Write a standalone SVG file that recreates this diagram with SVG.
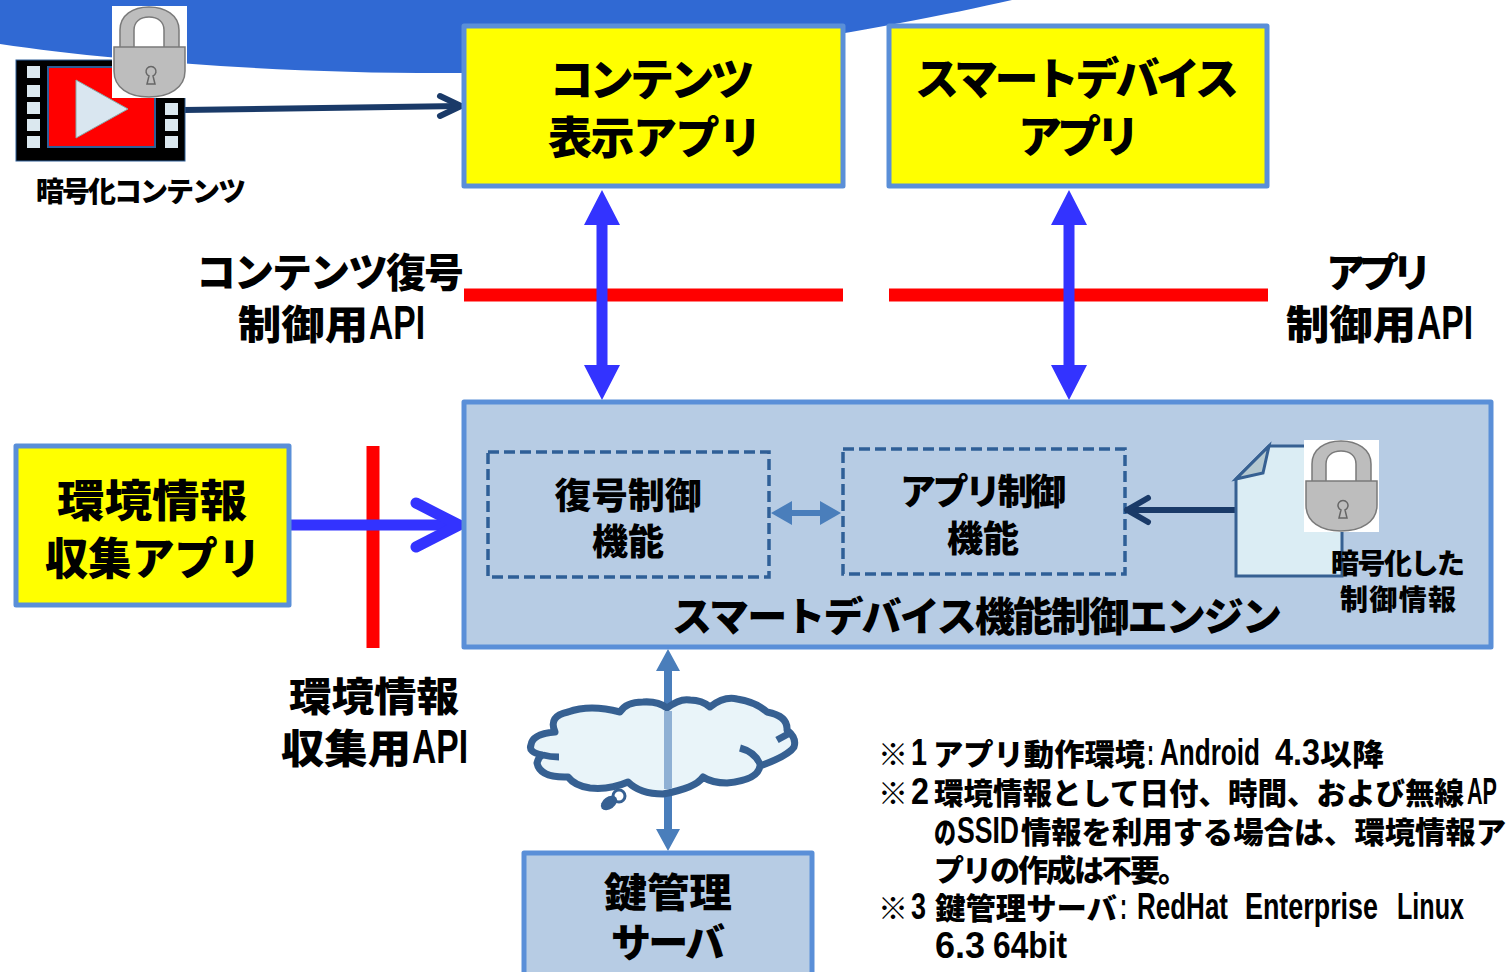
<svg xmlns="http://www.w3.org/2000/svg" width="1506" height="972" viewBox="0 0 1506 972">
<style>
text{font-family:"Noto Sans CJK JP","Noto Sans",sans-serif;font-weight:900;fill:#000;text-anchor:middle}
.la{font-family:"Liberation Sans","Noto Sans CJK JP",sans-serif;font-weight:700;font-size:36px}
.api{font-family:"Liberation Sans","Noto Sans CJK JP",sans-serif;font-weight:700;font-size:48px}
.b{stroke:#5a8fd8;stroke-width:5;stroke-linejoin:round}
.y{fill:#ffff00}
.l{fill:#b7cce4}
.dash{fill:#b7cce4;stroke:#2f5f97;stroke-width:3.5;stroke-dasharray:11 5}
.t46{font-size:44px}.t40{font-size:40px}.t38{font-size:36px}.t28{font-size:28px}
.s{text-anchor:start}
.n{font-size:30px;text-anchor:start}
</style>
<defs>
<g id="lock">
<rect x="0" y="0" width="75" height="92" fill="#fff"/>
<path d="M8 46V24C8 9 21 1 37 1S67 9 67 24V46H52V24C52 16 46 11 37 11S22 16 22 24V46Z" fill="#bdbdbd" stroke="#7a7a7a" stroke-width="1.5"/>
<path d="M2 41H73V65C73 82 57 91 37 91S2 82 2 65Z" fill="#bdbdbd" stroke="#7a7a7a" stroke-width="1.5"/>
<path d="M35 78H43L41 70A5 5 0 1 0 37 70Z" fill="#bdbdbd" stroke="#666" stroke-width="1.5"/>
</g>
</defs>
<path id="swoosh" d="M0 0H1012C880 30 640 72 460 73C300 74 120 62 0 44Z" fill="#3069d3"/>

<g id="connectors">
<path d="M184 110L460 106" stroke="#1a3a68" stroke-width="6" fill="none"/>
<path d="M440 96L461 106L440 116" stroke="#1a3a68" stroke-width="6" fill="none" stroke-linecap="round" stroke-linejoin="round"/>
<path d="M464 295H843M889 295H1268" stroke="#ff0000" stroke-width="13" fill="none"/>
<path d="M602 220V370" stroke="#3333ff" stroke-width="11"/>
<path d="M602 190L620 225H584Z M602 400L620 365H584Z" fill="#3333ff"/>
<path d="M1069 220V370" stroke="#3333ff" stroke-width="11"/>
<path d="M1069 190L1087 225H1051Z M1069 400L1087 365H1051Z" fill="#3333ff"/>
<path d="M373 446V648" stroke="#ff0000" stroke-width="13"/>
<path d="M290 525H458" stroke="#3333ff" stroke-width="11"/>
<path d="M416 503L459 525L416 547" stroke="#3333ff" stroke-width="11" fill="none" stroke-linecap="round" stroke-linejoin="round"/>
<path d="M668 670V830" stroke="#4a7ebb" stroke-width="8"/>
<path d="M668 649L680 671H656Z M668 851L680 829H656Z" fill="#4a7ebb"/>
</g>

<g id="app-content"><rect class="b y" x="464" y="26" width="379" height="160"/>
<text class="t46" x="652" y="96" textLength="205">コンテンツ</text><text class="t46" x="655" y="154" textLength="214">表示アプリ</text></g>
<g id="app-smart"><rect class="b y" x="889" y="26" width="378" height="160"/>
<text class="t46" x="1077" y="95" textLength="324">スマートデバイス</text><text class="t46" x="1079" y="153" textLength="122">アプリ</text></g>
<g id="app-env"><rect class="b y" x="16" y="446" width="273" height="159"/>
<text class="t46" x="152" y="517" textLength="190" lengthAdjust="spacingAndGlyphs">環境情報</text><text class="t46" x="153" y="575" textLength="216" lengthAdjust="spacingAndGlyphs">収集アプリ</text></g>

<g id="engine"><rect class="b l" x="464" y="402" width="1027" height="245"/>
<text class="t40" x="977" y="631" textLength="610">スマートデバイス機能制御エンジン</text></g>
<g id="decrypt"><rect class="dash" x="488" y="452" width="281" height="125"/>
<text class="t38" x="628" y="509" textLength="147" lengthAdjust="spacingAndGlyphs">復号制御</text><text class="t38" x="628" y="555" textLength="72">機能</text></g>
<g id="appctl"><rect class="dash" x="843" y="449" width="282" height="125"/>
<text class="t38" x="983" y="505" textLength="166">アプリ制御</text><text class="t38" x="983" y="552" textLength="72">機能</text></g>
<g id="inner-arrow"><path d="M785 513H830" stroke="#4a7ebb" stroke-width="6"/>
<path d="M771 513L792 501V525Z M841 513L820 501V525Z" fill="#4a7ebb"/></g>

<g id="doc">
<path d="M1125 510H1236" stroke="#1a3a68" stroke-width="6"/>
<path d="M1148 498L1127 510L1148 522" stroke="#1a3a68" stroke-width="6" fill="none" stroke-linecap="round" stroke-linejoin="round"/>
<path d="M1236 479L1269 446H1342V576H1236Z" fill="#dbedf4" stroke="#366092" stroke-width="3"/>
<path d="M1236 479L1263 473L1269 446Z" fill="#b4c8d0" stroke="#366092" stroke-width="3"/>
<use href="#lock" x="1304" y="440"/>
<text class="t28" x="1398" y="574" textLength="134">暗号化した</text><text class="t28" x="1398" y="610" textLength="116">制御情報</text>
</g>

<g id="video">
<rect x="16" y="60" width="169" height="101" fill="#000" stroke="#2f5f97" stroke-width="1"/>
<rect x="48" y="67" width="107" height="80" fill="#ff0000" stroke="#2f5f97" stroke-width="2"/>
<path d="M76 80L128 109L76 138Z" fill="#d9e6f0" stroke="#8aa" stroke-width="1"/>
<g fill="#dbe8ef"><rect x="27" y="66" width="13" height="12"/><rect x="27" y="85" width="13" height="12"/><rect x="27" y="102" width="13" height="12"/><rect x="27" y="119" width="13" height="12"/><rect x="27" y="136" width="13" height="12"/><rect x="165" y="103" width="13" height="12"/><rect x="165" y="119" width="13" height="12"/><rect x="165" y="136" width="13" height="12"/></g>
<use href="#lock" x="112" y="6"/>
<text class="t28" x="141" y="202" textLength="210">暗号化コンテンツ</text>
</g>

<g id="labels">
<text class="t40" x="330" y="287" textLength="268">コンテンツ復号</text>
<text class="t40 s" y="339"><tspan x="238" textLength="130" lengthAdjust="spacingAndGlyphs">制御用</tspan><tspan class="api" x="369" textLength="56" lengthAdjust="spacingAndGlyphs">API</tspan></text>
<text class="t40" x="1379" y="287" textLength="106">アプリ</text>
<text class="t40 s" y="339"><tspan x="1286" textLength="130" lengthAdjust="spacingAndGlyphs">制御用</tspan><tspan class="api" x="1417" textLength="56" lengthAdjust="spacingAndGlyphs">API</tspan></text>
<text class="t40" x="374" y="711" textLength="170" lengthAdjust="spacingAndGlyphs">環境情報</text>
<text class="t40 s" y="763"><tspan x="281" textLength="130" lengthAdjust="spacingAndGlyphs">収集用</tspan><tspan class="api" x="412" textLength="56" lengthAdjust="spacingAndGlyphs">API</tspan></text>
</g>

<g id="cloud">
<path d="M555 732Q548 716 568 712Q590 704 620 712Q626 702 643 702Q658 701 667 708Q680 698 690 700Q702 700 710 707Q724 696 737 699Q756 702 767 712Q788 716 787 730Q797 738 794 747Q788 756 760 766Q758 780 727 783Q712 783 703 777Q696 788 663 794Q640 794 628 782Q610 790 590 788Q575 786 568 777Q540 778 537 763Q538 758 542 755Q528 752 531 745Q532 734 555 732Z" fill="#e9f4f9" stroke="#366092" stroke-width="7" stroke-linejoin="round"/>
<path d="M543 755Q550 757 559 757M740 748Q755 752 760 764M777 740L788 734" fill="none" stroke="#366092" stroke-width="7"/>
<path d="M664 711H672V789H664Z" fill="#8fb0d4"/>
<ellipse cx="609" cy="803" rx="9" ry="6" fill="#366092" transform="rotate(-35 609 803)"/>
<circle cx="619" cy="796" r="6" fill="none" stroke="#366092" stroke-width="3"/>
</g>

<g id="keyserver"><rect class="b l" x="524" y="853" width="288" height="125"/>
<text class="t40" x="668" y="907" textLength="128" lengthAdjust="spacingAndGlyphs">鍵管理</text><text class="t40" x="668" y="957" textLength="114">サーバ</text></g>

<g id="notes">
<text class="n" y="765"><tspan x="878">※</tspan><tspan class="la" x="911" textLength="16" lengthAdjust="spacingAndGlyphs">1</tspan><tspan x="933" textLength="212" lengthAdjust="spacingAndGlyphs">アプリ動作環境</tspan><tspan class="la" x="1147" textLength="7" lengthAdjust="spacingAndGlyphs">:</tspan><tspan class="la" x="1160" textLength="100" lengthAdjust="spacingAndGlyphs">Android</tspan><tspan class="la" x="1275" textLength="45" lengthAdjust="spacingAndGlyphs">4.3</tspan><tspan x="1320" textLength="64" lengthAdjust="spacingAndGlyphs">以降</tspan></text>
<text class="n" y="804"><tspan x="878">※</tspan><tspan class="la" x="911" textLength="18" lengthAdjust="spacingAndGlyphs">2</tspan><tspan x="934" textLength="530" lengthAdjust="spacingAndGlyphs">環境情報として日付、時間、および無線</tspan><tspan class="la" x="1467" textLength="30" lengthAdjust="spacingAndGlyphs">AP</tspan></text>
<text class="n" y="843"><tspan x="934" textLength="22" lengthAdjust="spacingAndGlyphs">の</tspan><tspan class="la" x="957" textLength="62" lengthAdjust="spacingAndGlyphs">SSID</tspan><tspan x="1021" textLength="485" lengthAdjust="spacingAndGlyphs">情報を利用する場合は、環境情報ア</tspan></text>
<text class="n" x="934" y="881" textLength="254">プリの作成は不要。</text>
<text class="n" y="919"><tspan x="878">※</tspan><tspan class="la" x="911" textLength="15" lengthAdjust="spacingAndGlyphs">3</tspan><tspan x="935" textLength="182" lengthAdjust="spacingAndGlyphs">鍵管理サーバ</tspan><tspan class="la" x="1120" textLength="7" lengthAdjust="spacingAndGlyphs">:</tspan><tspan class="la" x="1137" textLength="91" lengthAdjust="spacingAndGlyphs">RedHat</tspan><tspan class="la" x="1245" textLength="133" lengthAdjust="spacingAndGlyphs">Enterprise</tspan><tspan class="la" x="1397" textLength="67" lengthAdjust="spacingAndGlyphs">Linux</tspan></text>
<text class="n" y="958"><tspan class="la" x="935" textLength="50" lengthAdjust="spacingAndGlyphs">6.3</tspan><tspan class="la" x="993" textLength="74" lengthAdjust="spacingAndGlyphs">64bit</tspan></text>
</g>
</svg>
